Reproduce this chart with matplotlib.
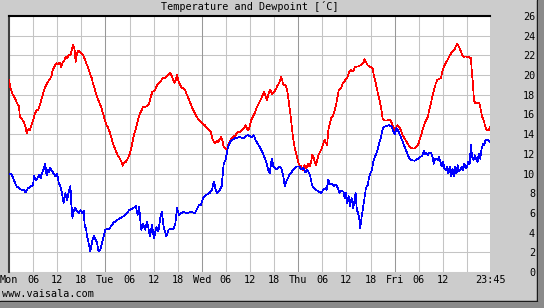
import matplotlib
matplotlib.use("Agg")
import matplotlib.pyplot as plt
from matplotlib.patches import Rectangle
import numpy as np

# ---- data (hours since Monday 00:00) ----
temp_hours = [
    0.0, 0.4, 0.8, 1.25, 1.65, 2.05, 2.5, 2.7, 3.3, 3.7, 4.1, 4.4, 4.8, 5.2, 5.6, 6.0, 6.45, 6.85, 7.3, 7.7,
    8.0, 8.4, 8.85, 9.25, 9.65, 10.0, 10.5, 10.9, 11.3, 11.8, 12.2, 12.65, 13.0, 13.4, 13.8, 14.1, 14.45, 14.9,
    15.3, 15.6, 15.95, 16.3, 16.6, 16.95, 17.3, 17.6, 18.1, 18.6, 19.1, 19.6, 20.1, 20.6, 20.9, 21.4, 21.9,
    22.4, 22.9, 23.4, 23.9, 24.3,
    24.5, 25.0, 25.5, 26.0, 26.5, 27.0, 27.5, 28.0, 28.3, 28.6, 29.1, 29.6, 30.1, 30.5, 30.9, 31.35, 31.8,
    32.2, 32.6, 33.0, 33.4, 33.9, 34.4, 34.9, 35.3, 35.7, 36.3, 36.7, 37.2, 37.7, 38.2, 38.7, 39.2, 39.7,
    40.2, 40.7, 41.2, 41.5, 41.85, 42.35, 42.85, 43.3, 43.8, 44.3, 44.8, 45.3, 45.8, 46.3, 46.8, 47.3, 47.8,
    48.15, 48.75, 49.3, 49.8, 50.2, 50.65, 51.0, 51.3, 51.65, 52.05, 52.45, 52.85, 53.1, 53.45, 53.85, 54.3,
    54.6, 54.95, 55.35, 55.8, 56.4, 56.9, 57.4, 57.9, 58.4, 58.9, 59.25, 59.6, 59.9, 60.3, 60.7, 61.15, 61.55,
    61.95, 62.4, 62.8, 63.2, 63.55, 63.9, 64.2, 64.6, 65.0, 65.5, 66.0, 66.5, 66.9, 67.3, 67.75, 68.0, 68.3,
    68.8, 69.15, 69.5, 69.8, 70.15, 70.5, 70.8, 71.15, 71.5, 71.8, 72.1,
    72.33, 72.75, 73.15, 73.6, 74.0, 74.4, 74.8, 75.2, 75.5, 75.8, 76.1, 76.45, 76.8, 77.1, 77.7, 78.1, 78.6,
    78.95, 79.2, 79.5, 79.8, 80.2, 80.6, 81.0, 81.4, 81.8, 82.1, 82.65, 83.1, 83.5, 83.9, 84.3, 84.7, 85.1,
    85.7, 86.05, 86.55, 87.05, 87.6, 88.2, 88.5, 88.85, 89.3, 89.85, 90.5, 90.9, 91.3, 91.75, 92.15, 92.6,
    93.0, 93.4, 94.2, 94.9, 95.3, 95.65, 96.05,
    96.5, 96.8, 97.15, 97.55, 98.0, 98.5, 99.0, 99.45, 99.95, 100.45, 100.95, 101.45, 101.95, 102.45, 102.95,
    103.45, 103.8, 104.25, 104.6, 105.0, 105.4, 105.85, 106.25, 106.65, 107.1, 107.5, 107.9, 108.3, 108.7,
    109.15, 109.55, 110.05, 110.4, 110.8, 111.2, 111.6, 112.0, 112.45, 112.85, 113.25, 113.7, 114.2, 114.7,
    115.0, 115.2, 115.5, 115.75, 116.15, 116.65, 117.15, 117.5, 117.8, 118.15, 118.5, 118.85, 119.2, 119.5,
    119.75,
]
temp_values = [
    19.5, 18.65, 18.15, 17.8, 17.5, 17.1, 16.8, 15.8, 15.5, 15.2, 14.8, 14.1, 14.5, 14.4, 14.9, 15.4, 16.1,
    16.4, 16.5, 16.95, 17.45, 17.95, 18.65, 18.95, 19.3, 19.5, 19.8, 20.5, 20.85, 21.2, 21.1, 21.25, 20.8,
    21.35, 21.5, 21.85, 21.7, 22.1, 22.0, 22.5, 23.05, 22.7, 21.35, 22.2, 22.5, 22.4, 22.2, 21.9, 21.35,
    20.85, 20.2, 19.7, 19.15, 18.5, 17.8, 17.3, 16.8, 16.1, 15.4, 14.9,
    14.8, 14.3, 13.6, 12.9, 12.4, 11.9, 11.6, 11.2, 10.8, 11.1, 11.2, 11.55, 12.05, 12.7, 13.55, 14.25, 14.9,
    15.6, 16.1, 16.4, 16.8, 16.75, 16.9, 17.1, 17.8, 18.3, 18.45, 18.8, 19.2, 19.3, 19.7, 19.7, 19.85, 20.1,
    20.2, 19.7, 19.2, 19.5, 20.0, 19.2, 18.8, 18.65, 18.5, 18.0, 17.5, 17.0, 16.5, 16.1, 15.7, 15.45, 15.2,
    15.1, 14.9, 14.6, 14.4, 14.25, 13.55, 13.2, 13.05, 13.3, 13.2, 13.45, 13.7, 13.4, 12.7, 12.55, 12.45,
    12.9, 13.2, 13.55, 13.7, 13.9, 14.2, 14.2, 14.4, 14.55, 14.9, 14.55, 14.4, 14.8, 15.4, 15.75, 16.1, 16.6,
    16.95, 17.3, 17.6, 18.0, 18.3, 17.8, 17.45, 18.1, 18.5, 18.1, 18.3, 18.6, 19.0, 19.2, 19.85, 19.5, 19.0,
    19.0, 18.65, 17.8, 16.8, 15.75, 14.4, 13.4, 12.55, 12.05, 11.5, 11.0,
    10.85, 10.7, 10.35, 10.85, 10.5, 11.0, 10.7, 11.2, 11.9, 11.75, 11.2, 10.85, 11.5, 11.9, 12.4, 12.9, 13.4,
    13.05, 12.9, 14.4, 14.9, 15.6, 15.85, 16.25, 16.95, 17.8, 18.5, 18.65, 19.15, 19.3, 19.65, 19.8, 20.3,
    20.5, 20.4, 20.78, 20.85, 20.9, 21.0, 21.2, 21.6, 21.35, 21.0, 20.85, 20.7, 19.8, 19.2, 18.3, 17.6, 16.8,
    15.6, 15.4, 15.4, 15.5, 15.1, 14.75, 14.4,
    14.75, 14.9, 14.75, 14.4, 13.9, 13.55, 13.2, 12.9, 12.65, 12.55, 12.55, 12.7, 13.05, 13.7, 14.4,
    15.05, 15.4, 15.75, 16.4, 17.1, 17.8, 18.5, 19.15, 19.5, 19.65, 19.65, 20.35, 20.85, 21.2,
    21.5, 21.85, 22.2, 22.45, 22.5, 22.9, 23.15, 22.9, 22.45, 22.0, 21.85, 21.9, 21.85, 21.8,
    21.7, 20.5, 19.15, 17.45, 17.1, 17.2, 17.1, 16.4, 15.75, 15.45, 14.9, 14.45, 14.4, 14.4,
    14.75,
]

dew_hours = [
    0.0, 0.58, 1.24, 1.9, 2.9, 3.7, 4.1, 4.7, 5.5, 6.0, 6.2, 6.6, 7.2, 7.6, 7.85, 8.35, 8.7, 9.0, 9.35, 9.7,
    10.0, 10.3, 10.8, 11.15, 11.6, 12.0, 12.4, 12.8, 13.2, 13.6, 14.05, 14.5, 14.9, 15.3, 15.5, 15.8, 16.1,
    16.5, 16.9, 17.4, 17.8, 18.2, 18.6, 18.85, 19.2, 19.4, 19.8, 20.25, 20.7, 21.1, 21.5, 21.9, 22.3, 22.7,
    23.1, 23.55, 24.0,
    25.0, 26.0, 27.0, 28.0, 29.0, 29.95, 30.95, 31.6, 32.0, 32.4, 32.9, 33.4, 33.9, 34.4, 35.1, 35.6, 36.1,
    36.7, 37.2, 37.7, 38.05, 38.5, 39.2, 39.7, 40.4, 40.9, 41.4, 41.85, 42.3, 43.3, 44.3, 45.3, 46.3, 47.3,
    47.75,
    48.33, 49.0, 50.0, 50.5, 51.0, 51.5, 51.8, 52.45, 52.95, 53.45, 53.95, 54.45, 54.95, 55.45, 56.4, 57.4,
    58.4, 59.4, 60.4, 60.9, 61.4, 62.4, 63.2, 64.0, 64.5, 64.9, 65.4, 65.85, 66.5, 67.3, 67.8, 68.3, 68.65,
    69.15, 69.8, 70.8, 71.5,
    72.33, 72.75, 73.3, 73.8, 74.2, 74.65, 75.0, 75.3, 75.65, 76.3, 77.0, 77.7, 78.3, 78.8, 79.1, 79.5, 79.9,
    80.4, 80.85, 81.4, 81.9, 82.25, 82.75, 83.25, 83.6, 83.9, 84.2, 84.55, 84.9, 85.3, 85.7, 86.05, 86.3,
    86.6, 86.9, 87.2, 87.45, 87.8, 88.0, 88.45, 88.85, 89.3, 89.7, 90.35, 90.7, 91.1, 91.6, 92.15, 92.6,
    93.0, 93.4, 94.0, 94.65, 95.3, 95.7, 96.0,
    96.5, 97.0, 97.5, 98.0, 98.5, 99.0, 99.45, 99.95, 100.45, 100.95, 101.45, 101.95, 102.45, 102.95, 103.3,
    103.6, 103.95, 104.25, 104.6, 105.1, 105.4, 105.75, 106.1, 106.4, 106.75, 107.05, 107.4, 107.75, 108.05,
    108.4, 108.7, 109.05, 109.4, 109.7, 110.05, 110.4, 110.7, 111.05, 111.4, 111.7, 112.05, 112.35, 112.7,
    113.0, 113.35, 113.7, 114.0, 114.35, 114.7, 115.0, 115.3, 115.65, 116.0, 116.3, 116.65, 117.0, 117.3,
    117.65, 118.0, 118.3, 118.65, 119.0, 119.3, 119.65,
]
dew_values = [
    9.95, 10.0, 9.3, 8.7, 8.4, 8.3, 8.1, 8.5, 8.7, 8.8, 9.8, 9.3, 9.6, 9.9, 9.5, 10.2, 10.5, 11.0, 9.8, 10.4,
    10.1, 10.6, 10.2, 10.0, 9.7, 10.0, 9.0, 8.7, 8.0, 7.0, 8.0, 7.3, 8.2, 8.7, 7.0, 5.5, 6.2,
    6.5, 6.2, 6.0, 6.3, 6.0, 6.2, 4.7, 4.4, 3.7, 3.0, 2.1, 3.1, 3.7, 3.3, 3.0, 2.1, 2.2,
    2.9, 3.6, 4.3,
    4.4, 5.0, 5.3, 5.55, 5.8, 6.3, 6.5, 6.7, 5.8, 6.6, 4.3, 4.9, 4.3, 5.1, 3.6, 4.8, 3.4,
    4.6, 4.1, 5.6, 6.1, 4.6, 3.6, 4.3, 4.4, 4.3, 4.9, 6.5, 5.8, 6.1, 6.0, 6.1, 6.0, 6.8,
    6.8,
    7.5, 7.8, 8.05, 8.3, 9.2, 8.3, 8.0, 8.3, 8.7, 11.0, 11.4, 12.6, 13.1, 13.4, 13.6, 13.7,
    13.6, 13.9, 13.7, 13.9, 13.4, 12.7, 12.05, 11.2, 10.4, 10.0, 11.5, 10.7, 10.4, 10.7, 10.5, 9.7, 8.7,
    9.3, 9.85, 10.4, 10.7,
    10.7, 10.4, 10.6, 10.1, 10.4, 10.1, 9.75, 9.1, 8.6, 8.35, 8.2, 8.05, 8.35, 8.5, 8.35, 9.35, 8.9,
    9.0, 8.75, 8.9, 8.5, 8.05, 8.25, 8.15, 7.5, 8.0, 7.0, 7.7, 6.7, 7.5, 6.5, 7.35, 8.0,
    6.3, 6.0, 5.45, 4.45, 5.65, 6.15, 7.35, 8.5, 8.85, 9.7, 10.4, 11.2, 11.7, 12.2, 13.05, 13.7,
    14.5, 14.75, 14.85, 14.9, 14.75, 14.3, 14.0,
    14.6, 14.25, 13.75, 13.25, 12.7, 12.2, 11.7, 11.4, 11.35, 11.3, 11.4, 11.55, 11.7, 11.85, 12.3,
    11.95, 12.1, 11.85, 12.1, 12.05, 11.75, 11.0, 11.5, 11.5, 11.35, 11.7, 11.2, 10.7, 11.2,
    10.5, 10.35, 10.7, 10.0, 10.7, 9.7, 10.5, 9.7, 10.7, 10.0, 10.85, 10.2, 10.35, 10.7,
    10.35, 11.0, 10.5, 10.7, 11.2, 11.0, 12.9, 11.7, 11.35, 11.85, 11.5, 11.2, 12.05, 11.5,
    12.5, 13.0, 12.9, 13.4, 13.4, 13.4, 13.25,
]

x_tick_hours = [0, 6, 12, 18, 24, 30, 36, 42, 48, 54, 60, 66, 72, 78, 84, 90, 96, 102, 108, 119.75]
x_tick_labels = ["Mon", "06", "12", "18", "Tue", "06", "12", "18", "Wed", "06", "12", "18",
                 "Thu", "06", "12", "18", "Fri", "06", "12", "23:45"]
y_ticks = list(range(0, 27, 2))
day_hours = [24, 48, 72, 96]
title = "Temperature and Dewpoint [´C]"
footer = "www.vaisala.com"

W, H = 544, 308
BG = "#cccccc"
FONT = "DejaVu Sans Mono"
FS = 7.3

fig = plt.figure(figsize=(W / 100, H / 100), dpi=100, facecolor=BG)

# shadow border (right & bottom)
fig.patches.append(Rectangle((537 / W, 0), 1 / W, 1, transform=fig.transFigure, color="#000000", zorder=0))
fig.patches.append(Rectangle((538 / W, 0), 6 / W, 1, transform=fig.transFigure, color="#8a8a8a", zorder=0))
fig.patches.append(Rectangle((0, (H - 302) / H), 537 / W, 1 / H, transform=fig.transFigure, color="#000000", zorder=0))
fig.patches.append(Rectangle((0, 0), 538 / W, (H - 302) / H, transform=fig.transFigure, color="#8a8a8a", zorder=0))

left, right, top, bottom = 9, 490, 16, 272
ax = fig.add_axes([left / W, (H - bottom) / H, (right - left) / W, (bottom - top) / H])
ax.set_facecolor("white")
ax.set_xlim(0, 119.75)
ax.set_ylim(0, 26)

for s in ["right", "bottom"]:
    ax.spines[s].set_visible(False)
ax.spines["left"].set_color("#404040")
ax.spines["left"].set_linewidth(1.5)
ax.spines["top"].set_color("#000000")
ax.spines["top"].set_linewidth(1.5)

# grid
for yv in y_ticks:
    ax.axhline(yv, color="#c4c4c4", lw=0.75, zorder=1)
for xv in np.arange(6, 120, 6):
    if xv in day_hours:
        ax.axvline(xv, color="#989898", lw=0.75, zorder=1.1)
    else:
        ax.axvline(xv, color="#c4c4c4", lw=0.75, zorder=1)

ax.plot(temp_hours, temp_values, color="#ff0000", lw=0.5, zorder=3, antialiased=False)
ax.plot(dew_hours, dew_values, color="#0000ff", lw=0.5, zorder=3, antialiased=False)

ax.set_xticks(x_tick_hours)
ax.set_xticklabels(x_tick_labels, fontfamily=FONT, fontsize=FS)
ax.tick_params(axis="x", length=0, pad=2.5, colors="black")

ax.yaxis.tick_right()
ax.set_yticks(y_ticks)
ax.set_yticklabels([str(v) for v in y_ticks], fontfamily=FONT, fontsize=FS, ha="right")
ax.tick_params(axis="y", length=0, pad=32.4, colors="black")

fig.text(249.5 / W, 1 - 7 / H, title, ha="center", va="center", fontfamily=FONT, fontsize=FS)
fig.text(2 / W, 1 - 294 / H, footer, ha="left", va="center", fontfamily=FONT, fontsize=FS)

fig.savefig("out.png", dpi=100, facecolor=BG)
